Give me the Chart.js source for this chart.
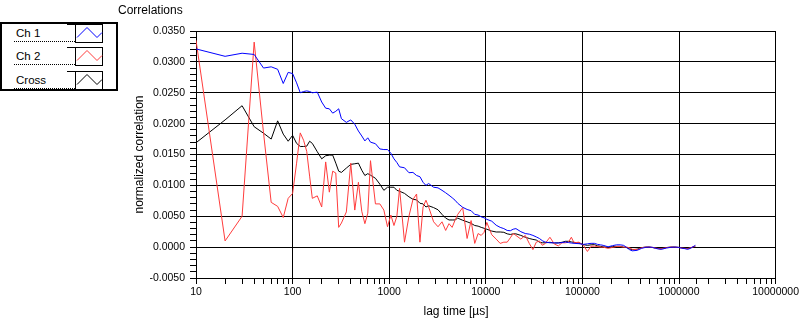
<!DOCTYPE html>
<html>
<head>
<meta charset="utf-8">
<script src="https://cdn.jsdelivr.net/npm/chart.js@4.4.0/dist/chart.umd.min.js"></script>
<style>
  html, body { margin: 0; padding: 0; background: #fff; }
  #wrap { position: relative; width: 801px; height: 321px; }
  #legend { position: absolute; left: 0; top: 0; }
</style>
</head>
<body>
<div id="wrap">
  <canvas id="chart" width="801" height="321"></canvas>
  <svg id="legend" width="120" height="94"></svg>
</div>
<script>
const chartTitle = 'Correlations';
const xTitle = 'lag time [µs]';
const yTitle = 'normalized correlation';
const seriesNames = ['Ch 1', 'Ch 2', 'Cross'];
const seriesColors = ['#0000ff', '#ff3c3c', '#000000'];

// lag times in µs (multi-tau)
const lagTimes = [10, 20, 30, 40, 50, 60, 70, 80, 90, 100, 110, 120, 130, 140, 150, 160,
  180, 200, 220, 240, 260, 280, 300, 320,
  360, 400, 440, 480, 520, 560, 600, 640,
  720, 800, 880, 960, 1040, 1120, 1200, 1280,
  1440, 1600, 1760, 1920, 2080, 2240, 2400, 2560,
  2880, 3200, 3520, 3840, 4160, 4480, 4800, 5120,
  5760, 6400, 7040, 7680, 8320, 8960, 9600, 10240,
  11520, 12800, 14080, 15360, 16640, 17920, 19200, 20480,
  23040, 25600, 28160, 30720, 33280, 35840, 38400, 40960,
  46080, 51200, 56320, 61440, 66560, 71680, 76800, 81920,
  92160, 102400, 112640, 122880, 133120, 143360, 153600, 163840,
  184320, 204800, 225280, 245760, 266240, 286720, 307200, 327680,
  368640, 409600, 450560, 491520, 532480, 573440, 614400, 655360,
  737280, 819200, 901120, 983040, 1064960, 1146880, 1228800, 1310720,
  1474560];

const ch1 = [0.0321, 0.0309, 0.0314, 0.0312, 0.0290, 0.0292, 0.0288, 0.0265, 0.0283, 0.0281, 0.0266, 0.0250, 0.0252, 0.0253, 0.0252, 0.0250,
  0.0251, 0.0235, 0.0225, 0.0224, 0.0217, 0.0220, 0.0224, 0.0208,
  0.0202, 0.0206, 0.0199, 0.0188, 0.0180, 0.0172, 0.0177, 0.0170,
  0.01675, 0.0159, 0.0158, 0.0158, 0.0152, 0.0143, 0.0137, 0.0130,
  0.01285, 0.01205, 0.0121, 0.0116, 0.0114, 0.0105, 0.0100, 0.0103,
  0.0097, 0.0096, 0.0092, 0.0088, 0.0084, 0.0080, 0.0076, 0.0071,
  0.00645, 0.0061, 0.0059, 0.0053, 0.0052, 0.0049, 0.00475, 0.0045,
  0.0042, 0.00355, 0.0032, 0.0030, 0.0027, 0.00265, 0.0029, 0.0030,
  0.0025, 0.0022, 0.0021, 0.0019, 0.00165, 0.0014, 0.00105, 0.00082,
  0.0007, 0.0007, 0.00066, 0.00074, 0.00082, 0.00074, 0.00066, 0.00061,
  0.00056, 0.00045, 0.00053, 0.00061, 0.00061, 0.00045, 0.00037, 0.00029,
  0.00005, 0.00024, 0.00037, 0.00037, 0.00029, -0.00004, -0.00041, -0.0006,
  -0.00052, -0.0002, -0.00004, 0.00001, -0.00004, -0.0002, -0.00031, -0.00036,
  -0.00015, -0.00004, 0.00001, -0.00004, -0.00017, -0.00025, -0.00036, -0.0002,
  0.00029];

const ch2 = [0.0335, 0.0010, 0.0050, 0.0332, 0.0185, 0.00725, 0.0066, 0.0048, 0.0079, 0.0087, 0.0136, 0.0185, 0.0173, 0.0155, 0.0115, 0.0079,
  0.0083, 0.0065, 0.0138, 0.0089, 0.0123, 0.0120, 0.0032, 0.0039,
  0.0057, 0.0136, 0.0060, 0.0105, 0.0058, 0.0038, 0.0055, 0.0140,
  0.0070, 0.0070, 0.0060, 0.0033, 0.0052, 0.0035, 0.0050, 0.0095,
  0.0008, 0.0050, 0.0077, 0.0086, 0.0008, 0.0065, 0.0076, 0.0065,
  0.0041, 0.0033, 0.0041, 0.0027, 0.0038, 0.0032, 0.00435, 0.0053,
  0.0064, 0.0014, 0.0043, 0.0006, 0.0022, 0.0019, 0.0024, 0.0040,
  0.0020, 0.0013, 0.0006, 0.0008, 0.0008, 0.0015, 0.0022, 0.0019,
  0.0013, 0.0019, 0.0006, -0.0004, 0.0008, 0.0010, 0.0003, 0.00055,
  0.0016, 0.0005, 0.0002, 0.0007, 0.0007, 0.0008, 0.0016, 0.0007,
  0.0008, 0.0003, -0.0007, 0.00015, 0.00015, 0.0001, 0.0, 0.0,
  -0.0002, -0.00005, 0.0001, 0.0001, 0.0, 0.0, -0.0001, -0.00035,
  -0.0004, -0.0001, 0.0, 0.0, -0.00005, -0.00015, -0.00025, -0.00025,
  -0.0001, 0.0, 0.0, -0.00005, -0.00015, -0.0002, -0.00025, -0.0001,
  0.00015];

const cross = [0.0169, 0.0206, 0.0229, 0.0195, 0.01845, 0.0175, 0.02045, 0.0183, 0.01715, 0.0181, 0.0168, 0.0163, 0.0163, 0.01635, 0.01715, 0.0168,
  0.01545, 0.0143, 0.0148, 0.0149, 0.0149, 0.0136, 0.0123, 0.0121,
  0.0128, 0.0134, 0.0135, 0.0136, 0.01245, 0.0116, 0.0119, 0.01165,
  0.01115, 0.0102, 0.0092, 0.0097, 0.0097, 0.0097, 0.0092, 0.00905,
  0.0087, 0.00815, 0.00775, 0.00765, 0.0071, 0.0070, 0.0065, 0.0067,
  0.0064, 0.00605, 0.0053, 0.0047, 0.0044, 0.0044, 0.0044, 0.0047,
  0.00435, 0.0041, 0.00385, 0.0035, 0.0034, 0.0032, 0.00305, 0.0029,
  0.0026, 0.00245, 0.00245, 0.0024, 0.00215, 0.00205, 0.00215, 0.00215,
  0.0019, 0.0016, 0.0014, 0.00125, 0.00115, 0.0008, 0.0007, 0.0007,
  0.00078, 0.00066, 0.0007, 0.00078, 0.00094, 0.00094, 0.00084, 0.00078,
  0.00066, 0.0004, 0.00029, 0.00037, 0.0004, 0.00021, 0.00013, 0.00005,
  -0.00004, 0.00009, 0.00013, 0.00013, 0.0, -0.00008, -0.00028, -0.00041,
  -0.00033, -0.00008, 0.00001, 0.00001, -0.00007, -0.00014, -0.0002, -0.00025,
  -0.00007, 0.00001, 0.00001, -0.00004, -0.0001, -0.0002, -0.0002, -0.00014,
  0.00013];

const fontFamily = '"Liberation Sans", Arial, sans-serif';

function points(vals) {
  return lagTimes.map((t, i) => ({ x: t, y: vals[i] }));
}

const isMajorY = v => Math.abs(v / 0.005 - Math.round(v / 0.005)) < 1e-6;
const isDecade = v => Math.abs(Math.log10(v) - Math.round(Math.log10(v))) < 1e-6;

// texts drawn outside the axes
const extraText = {
  id: 'extraText',
  afterDraw(chart) {
    const c = chart.ctx;
    c.save();
    c.fillStyle = '#000';
    c.font = '12px ' + fontFamily;
    c.textBaseline = 'alphabetic';
    c.textAlign = 'left';
    c.fillText(chartTitle, 118, 13.5);
    c.textAlign = 'center';
    c.fillText(xTitle, 456, 314.5);
    c.restore();
  }
};

const ctx = document.getElementById('chart');
new Chart(ctx, {
  type: 'line',
  data: {
    datasets: [{
      label: seriesNames[0],
      data: points(ch1),
      borderColor: seriesColors[0],
    }, {
      label: seriesNames[1],
      data: points(ch2),
      borderColor: seriesColors[1],
    }, {
      label: seriesNames[2],
      data: points(cross),
      borderColor: seriesColors[2],
    }]
  },
  options: {
    responsive: false,
    animation: false,
    devicePixelRatio: 1,
    layout: {
      padding: { left: 0, right: 23, top: 31, bottom: 0 }
    },
    elements: {
      line: { borderWidth: 1, tension: 0, fill: false },
      point: { radius: 0, hoverRadius: 0 }
    },
    plugins: {
      legend: { display: false },
      tooltip: { enabled: false }
    },
    scales: {
      x: {
        type: 'logarithmic',
        min: 10,
        max: 10000000,
        ticks: {
          autoSkip: false,
          maxRotation: 0,
          color: '#000',
          padding: 2,
          font: { family: fontFamily, size: 10.5 },
          callback: v => isDecade(v) ? String(Math.round(v)) : ''
        },
        grid: {
          color: c => (c.tick && isDecade(c.tick.value)) ? '#000' : 'rgba(0,0,0,0)',
          tickColor: '#000',
          tickLength: 6,
          lineWidth: 1
        },
        border: { color: '#000', width: 1 },
        afterFit: s => { s.height = 43; }
      },
      y: {
        type: 'linear',
        min: -0.005,
        max: 0.035,
        ticks: {
          stepSize: 0.001,
          maxTicksLimit: 100,
          autoSkip: false,
          color: '#000',
          padding: 5,
          font: { family: fontFamily, size: 10.5 },
          callback: v => {
            if (!isMajorY(v)) return '';
            if (Math.abs(v) < 1e-9) return '0.0000';
            return v.toFixed(4);
          }
        },
        grid: {
          color: c => (c.tick && isMajorY(c.tick.value)) ? '#000' : 'rgba(0,0,0,0)',
          tickColor: '#000',
          tickLength: 6,
          lineWidth: 1
        },
        border: { color: '#000', width: 1 },
        title: {
          display: true,
          text: yTitle,
          color: '#000',
          font: { family: fontFamily, size: 12 },
          padding: { top: 132, bottom: 0 }
        },
        afterFit: s => { s.width = 196; }
      }
    }
  },
  plugins: [extraText]
});

// legend box
const svg = document.getElementById('legend');
const NS = 'http://www.w3.org/2000/svg';
function el(name, attrs, text) {
  const e = document.createElementNS(NS, name);
  for (const k in attrs) e.setAttribute(k, attrs[k]);
  if (text) e.textContent = text;
  svg.appendChild(e);
  return e;
}
el('rect', { x: 1, y: 23, width: 116, height: 67, fill: '#fff', stroke: '#000', 'stroke-width': 2 });
const rowTops = [24, 47, 71];
seriesNames.forEach((name, i) => {
  const top = rowTops[i];
  el('line', { x1: 67, y1: top + 0.5, x2: 76, y2: top + 0.5, stroke: '#000', 'stroke-width': 1 });
  el('line', { x1: 14, y1: top + 17.5, x2: 76, y2: top + 17.5, stroke: '#000', 'stroke-width': 1, 'stroke-dasharray': '1,1' });
  el('rect', { x: 75.5, y: top + 0.5, width: 27, height: 18, fill: '#fff', stroke: '#000', 'stroke-width': 1 });
  el('polyline', {
    points: '77,' + (top + 13.5) + ' 87,' + (top + 3.5) + ' 97,' + (top + 13.5) + ' 102,' + (top + 8.5),
    fill: 'none', stroke: seriesColors[i], 'stroke-width': 1
  });
  el('text', { x: 16, y: top + 12.5, 'font-family': 'Liberation Sans, Arial, sans-serif', 'font-size': 11.5, fill: '#000' }, name);
});
</script>
</body>
</html>
